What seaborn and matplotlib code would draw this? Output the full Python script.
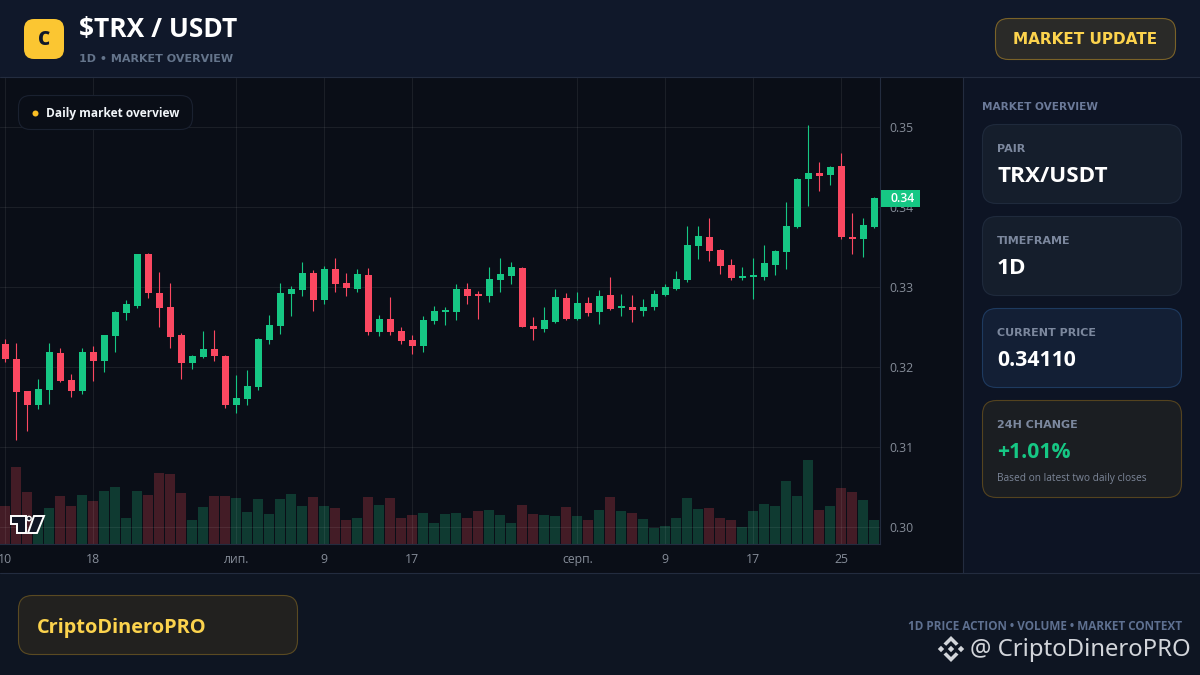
import matplotlib
matplotlib.use("Agg")
import matplotlib.pyplot as plt
from matplotlib.patches import FancyBboxPatch, Rectangle, Circle, Polygon
import pandas as pd
import seaborn as sns

opens = [.32291,.32104,.31704,.31529,.31716,.32179,.31841,.31704,.32191,.32079,
         .32391,.32679,.32766,.33416,.32929,.32754,.32404,.32054,.32129,.32229,
         .32141,.31529,.31604,.31754,.32341,.32516,.32916,.32966,.33179,.32841,
         .33229,.33054,.32979,.33154,.32441,.32604,.32454,.32341,.32266,.32579,
         .32691,.32691,.32979,.32904,.32891,.33091,.33141,.33241,.32516,.32479,
         .32566,.32866,.32604,.32804,.32691,.32904,.32741,.32754,.32704,.32754,
         .32904,.32979,.33091,.33516,.33629,.33466,.33279,.33116,.33129,.33129,
         .33279,.33441,.33754,.34354,.34429,.34404,.34516,.33629,.33604,.33754]
highs = [.32354,.32304,.31704,.31854,.32304,.32241,.31916,.32241,.32266,.32404,
         .32704,.32841,.33416,.33429,.33191,.33054,.32429,.32154,.32454,.32466,
         .32154,.31904,.31966,.32366,.32654,.33054,.33016,.33316,.33216,.33266,
         .33366,.33179,.33229,.33241,.32654,.32879,.32504,.32404,.32641,.32766,
         .32754,.33041,.33054,.32954,.33254,.33366,.33316,.33254,.32629,.32754,
         .32979,.32929,.32941,.32879,.32966,.33129,.32916,.32904,.32854,.32966,
         .33041,.33204,.33766,.33766,.33866,.33479,.33354,.33254,.33366,.33529,
         .33466,.34066,.34366,.35029,.34566,.34516,.34679,.33929,.33866,.34129]
lows = [.32066,.31091,.31204,.31479,.31541,.31816,.31629,.31666,.31829,.31941,
        .32191,.32591,.32741,.32866,.32504,.32241,.31854,.31979,.32116,.32079,
        .31491,.31429,.31529,.31716,.32291,.32416,.32641,.32891,.32704,.32791,
        .32941,.32891,.32941,.32404,.32391,.32404,.32291,.32166,.32191,.32541,
        .32529,.32591,.32791,.32604,.32816,.32941,.33041,.32504,.32341,.32441,
        .32554,.32591,.32591,.32641,.32541,.32716,.32641,.32566,.32641,.32716,
        .32891,.32966,.33066,.33354,.33329,.33166,.33091,.33091,.32854,.33091,
        .33154,.33229,.33741,.34016,.34204,.34279,.33604,.33416,.33379,.33741]
closes = [.32104,.31691,.31529,.31729,.32191,.31829,.31704,.32191,.32079,.32404,
          .32691,.32791,.33416,.32929,.32741,.32379,.32054,.32141,.32229,.32141,
          .31529,.31616,.31766,.32354,.32529,.32929,.32979,.33179,.32841,.33229,
          .33041,.32991,.33166,.32441,.32604,.32441,.32329,.32266,.32591,.32704,
          .32704,.32979,.32891,.32891,.33104,.33166,.33254,.32504,.32479,.32591,
          .32879,.32604,.32804,.32679,.32891,.32729,.32754,.32716,.32754,.32916,
          .33004,.33104,.33529,.33641,.33454,.33266,.33116,.33129,.33141,.33304,
          .33454,.33766,.34354,.34429,.34391,.34504,.33629,.33604,.33779,.34116]
volumes = [38,77,52,27,36,48,38,49,43,53,57,26,53,49,71,70,51,24,37,48,
           48,46,32,45,30,45,50,38,47,38,36,24,26,47,39,46,26,29,31,21,
           30,31,26,33,34,29,21,39,30,29,28,37,28,24,34,47,33,31,25,16,
           18,26,46,35,36,26,24,17,33,40,38,63,48,84,34,38,56,52,44,24]
price_ticks = [0.30, 0.31, 0.32, 0.33, 0.34, 0.35]
date_tick_pos = [0, 8, 21, 29, 37, 52, 60, 68, 76]
date_tick_labels = ["10", "18", "лип.", "9", "17", "серп.", "9", "17", "25"]

GREEN, RED = "#16c784", "#fb4861"
V_GREEN, V_RED = "#0f3a31", "#431c26"
CHART_BG, HEADER_BG, SIDE_BG, FOOT_BG = "#0a0e17", "#10182a", "#0d1424", "#0e1522"
LINE = "#232c3f"
GOLD = "#fcd34d"

sns.set_theme(style="dark")
plt.rcParams["font.family"] = ["Open Sans", "DejaVu Sans"]

df = pd.DataFrame({"day": range(len(opens)), "open": opens, "high": highs, "low": lows,
                   "close": closes, "volume": volumes})
df["dir"] = ["up" if c >= o else "down" for o, c in zip(opens, closes)]

W, H = 1200, 675
fig = plt.figure(figsize=(12, 6.75), dpi=100, facecolor=HEADER_BG)


def px_axes(z):
    a = fig.add_axes([0, 0, 1, 1], zorder=z)
    a.set_xlim(0, W); a.set_ylim(H, 0); a.axis("off"); a.patch.set_alpha(0)
    return a


def box(a, x0, y0, x1, y1, r, fc, ec, lw=0.8):
    a.add_patch(FancyBboxPatch((x0, y0), x1 - x0, y1 - y0, boxstyle=f"round,pad=0,rounding_size={r}",
                               fc=fc, ec=ec, lw=lw))


bg = px_axes(0)
bg.add_patch(Rectangle((0, 0), W, 77.5, fc=HEADER_BG, ec="none"))
bg.add_patch(Rectangle((0, 77), 963, 497, fc=CHART_BG, ec="none"))
bg.add_patch(Rectangle((963, 77), 237, 497, fc=SIDE_BG, ec="none"))
bg.add_patch(Rectangle((0, 573), W, 102, fc=FOOT_BG, ec="none"))
bg.plot([0, W], [77.2, 77.2], color=LINE, lw=0.8)
bg.plot([0, W], [573.2, 573.2], color=LINE, lw=0.8)
bg.plot([963.0, 963.0], [77, 573], color=LINE, lw=0.8)

# chart panes share the same pixel rectangle: x 0-880, y 78-544
rect = [0, (H - 544) / H, 880 / W, (544 - 78) / H]
xlim = (-0.482, 79.518)

vol = fig.add_axes(rect, zorder=1)
vol.patch.set_alpha(0)
sns.barplot(data=df, x="day", y="volume", hue="dir", palette={"up": V_GREEN, "down": V_RED},
            native_scale=True, dodge=False, width=0.91, legend=False, saturation=1,
            linewidth=0, edgecolor="none", ax=vol)
vol.set_xlim(*xlim); vol.set_ylim(0, 466)
vol.set_axis_off()

ax = fig.add_axes(rect, zorder=2)
ax.patch.set_alpha(0)
colors = [GREEN if d == "up" else RED for d in df["dir"]]
ax.vlines(df["day"], df["low"], df["high"], colors=colors, lw=0.8, zorder=3)
body_lo = df[["open", "close"]].min(axis=1)
body_h = (df["close"] - df["open"]).abs().clip(lower=0.0002)
ax.bar(df["day"], body_h, bottom=body_lo, width=7 / 11, color=colors, lw=0, zorder=4)
ax.set_xlim(*xlim); ax.set_ylim(0.29791, 0.35616)
ax.yaxis.tick_right()
ax.set_yticks(price_ticks, [f"{t:.2f}" for t in price_ticks])
ax.set_xticks(date_tick_pos, date_tick_labels)
ax.grid(True, color="white", alpha=0.07, lw=0.8)
ax.set_axisbelow(True)
ax.tick_params(axis="y", length=0, pad=7, labelsize=8.8, labelcolor="#868d99")
ax.tick_params(axis="x", length=0, pad=6.5, labelsize=8.8, labelcolor="#868d99")
for s in ("top", "left"):
    ax.spines[s].set_visible(False)
for s in ("right", "bottom"):
    ax.spines[s].set_color(LINE); ax.spines[s].set_linewidth(0.8)

fg = px_axes(5)
fg.add_patch(Rectangle((881, 190), 39, 17, fc=GREEN, ec="none"))
fg.text(902.5, 198.5, f"{closes[-1]:.2f}", color="white", fontsize=8.8, ha="center", va="center", fontweight="semibold")

# TradingView mark
tv = "#101524"
fg.add_patch(Polygon([(11, 516), (26, 516), (26, 533), (17, 533), (17, 524), (11, 524)], fc=tv, ec="white", lw=1.4))
fg.add_patch(Circle((29, 518.5), 2.2, fc=tv, ec="white", lw=1.0))
fg.add_patch(Polygon([(34, 516), (44, 516), (37, 533), (28, 533)], fc=tv, ec="white", lw=1.4))

# header
logo = FancyBboxPatch((24, 19), 40, 40, boxstyle="round,pad=0,rounding_size=10", fc="#fbc632", ec="none")
fg.add_patch(logo)
fg.text(44, 40, "C", color="#10182a", fontsize=13.5, fontweight=900, ha="center", va="center")
fg.text(79, 29, "$TRX / USDT", color="white", fontsize=19, fontweight="bold", va="center")
fg.text(79, 59.5, "1D • MARKET OVERVIEW", color="#64748b", fontsize=8.05, fontweight="bold", va="center",
        family=["DejaVu Sans"])
box(fg, 995.5, 18.5, 1175.5, 59.5, 13, "#2a2a28", "#7a6228")
fg.text(1085.5, 40, "MARKET UPDATE", color=GOLD, fontsize=10.95, fontweight="bold", ha="center", va="center",
        family=["DejaVu Sans"])

# badge
box(fg, 18.5, 95.5, 192.5, 129.5, 12, "#0a0e17", "#1a2130")
fg.add_patch(Circle((35.5, 113.5), 3, fc="#fbbf24", ec="none"))
fg.text(46, 113, "Daily market overview", color="#f1f5f9", fontsize=8.6, fontweight="bold", va="center")

# sidebar
fg.text(982, 106.5, "MARKET OVERVIEW", color="#6b7a99", fontsize=7.6, fontweight="bold", va="center",
        family=["DejaVu Sans"])
cards = [(124, 204, "#151e2c", "#1f2a3c"), (216, 296, "#151e2c", "#1f2a3c"),
         (308, 388, "#131f35", "#1e3a5f"), (400, 498, "#1b1e22", "#54431f")]
for y0, y1, fc, ec in cards:
    box(fg, 982.5, y0 + .5, 1181.5, y1 - .5, 14, fc, ec)
card_labels = [("PAIR", 148.5), ("TIMEFRAME", 240.5), ("CURRENT PRICE", 332.5), ("24H CHANGE", 424.5)]
for t, y in card_labels:
    fg.text(997, y, t, color="#7c889e", fontsize=8.0, fontweight="bold", va="center", family=["DejaVu Sans"])
for t, y, c, fs in [("TRX/USDT", 177, "white", 16.2), ("1D", 269, "white", 16.2),
                    ("0.34110", 361, "white", 15.2), ("+1.01%", 453, GREEN, 15.2)]:
    fg.text(997, y, t, color=c, fontsize=fs, fontweight="bold", va="center")
fg.text(997, 478, "Based on latest two daily closes", color="#7c8698", fontsize=7.25, va="center")

# footer
box(fg, 18.5, 595.5, 297.5, 654.5, 14, "#22211f", "#5a4a22")
fg.text(37, 627.5, "CriptoDineroPRO", color=GOLD, fontsize=14.45, fontweight="bold", va="center")
fg.text(1182, 626, "1D PRICE ACTION • VOLUME • MARKET CONTEXT", color="#5e7090", fontsize=8.45,
        fontweight="bold", ha="right", va="center")
fg.text(970, 650, "@ CriptoDineroPRO", color="#d2d5da", fontsize=17.2, va="center", family=["Noto Sans"])
cx, cy, wm = 951, 649, "#d2d5da"
for dx, dy in [(0, 0), (-10, 0), (10, 0)]:
    s = 3.2
    fg.add_patch(Polygon([(cx + dx - s, cy + dy), (cx + dx, cy + dy - s), (cx + dx + s, cy + dy), (cx + dx, cy + dy + s)], fc=wm, ec="none"))
fg.add_patch(Polygon([(cx, cy - 13), (cx + 7.5, cy - 5.5), (cx + 4.8, cy - 3.2), (cx, cy - 8), (cx - 4.8, cy - 3.2), (cx - 7.5, cy - 5.5)], fc=wm, ec="none"))
fg.add_patch(Polygon([(cx, cy + 13), (cx + 7.5, cy + 5.5), (cx + 4.8, cy + 3.2), (cx, cy + 8), (cx - 4.8, cy + 3.2), (cx - 7.5, cy + 5.5)], fc=wm, ec="none"))

fig.savefig("out.png", dpi=100, facecolor=fig.get_facecolor())
